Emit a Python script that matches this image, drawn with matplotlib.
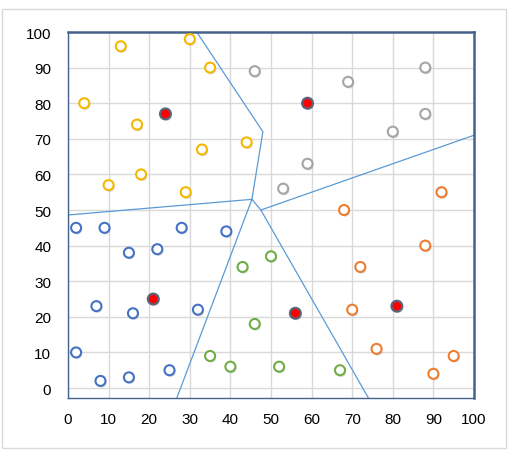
import numpy as np
import matplotlib
matplotlib.use("Agg")
import matplotlib.pyplot as plt
import matplotlib.patheffects as pe
from matplotlib.patches import Rectangle

plt.rcParams['font.family'] = ['Liberation Sans', 'DejaVu Sans']

# cluster points
yellow_x = [4, 13, 30, 35, 17, 33, 44, 10, 18, 29]
yellow_y = [80, 96, 98, 90, 74, 67, 69, 57, 60, 55]
grey_x = [46, 69, 88, 88, 80, 59, 53]
grey_y = [89, 86, 90, 77, 72, 63, 56]
orange_x = [92, 68, 88, 72, 70, 76, 95, 90]
orange_y = [55, 50, 40, 34, 22, 11, 9, 4]
blue_x = [2, 9, 28, 39, 15, 22, 7, 16, 32, 2, 8, 15, 25]
blue_y = [45, 45, 45, 44, 38, 39, 23, 21, 22, 10, 2, 3, 5]
green_x = [43, 50, 46, 35, 40, 52, 67]
green_y = [34, 37, 18, 9, 6, 6, 5]
# centroids
red_x = [24, 59, 21, 56, 81]
red_y = [77, 80, 25, 21, 23]

# boundary segments (x list, y list)
boundaries = [
    ([0, 45.3], [48.6, 53]),
    ([31.7, 48, 45.3], [100, 72, 53]),
    ([45.3, 26.8], [53, -2.8]),
    ([45.3, 47.5, 74], [53, 50, -2.8]),
    ([47.5, 100], [50, 71]),
]

ticks = [0, 10, 20, 30, 40, 50, 60, 70, 80, 90, 100]

fig = plt.figure(figsize=(5.15, 4.56), dpi=100)
fig.patches.append(Rectangle((2 / 515, 1 - 449 / 456), 504 / 515, 439 / 456,
                             transform=fig.transFigure, fill=False,
                             edgecolor='#D9D9D9', linewidth=1))
ax = fig.add_axes([68 / 515, 1 - 399 / 456, 406 / 515, 366 / 456])

for bx, by in boundaries:
    ax.plot(bx, by, color='#5B9BD5', linewidth=0.9, zorder=2)

shadow = [pe.SimplePatchShadow(offset=(0.8, -1.2), shadow_rgbFace='#909090', alpha=0.35), pe.Normal()]
groups = [
    (yellow_x, yellow_y, '#F5B800'),
    (grey_x, grey_y, '#A5A5A5'),
    (orange_x, orange_y, '#ED7D31'),
    (blue_x, blue_y, '#4472C4'),
    (green_x, green_y, '#70AD47'),
]
for gx, gy, c in groups:
    s = ax.scatter(gx, gy, s=52, facecolors='white', edgecolors=c, linewidths=1.5, zorder=3)
    s.set_path_effects(shadow)
r = ax.scatter(red_x, red_y, s=60, facecolors='#FF0000', edgecolors='#5A6378', linewidths=1.6, zorder=4)
r.set_path_effects(shadow)

ax.set_xlim(0, 100)
ax.set_ylim(-2.8, 100)
ax.set_xticks(ticks)
ax.set_yticks(ticks)
ax.grid(True, color='#D9D9D9', linewidth=1)
ax.set_axisbelow(True)
ax.tick_params(length=0, labelsize=11, colors='black')
ax.tick_params(axis='y', pad=12)
ax.tick_params(axis='x', pad=10)
for side in ['left', 'bottom']:
    ax.spines[side].set_color('#44628C')
    ax.spines[side].set_linewidth(1)
for side in ['top', 'right']:
    ax.spines[side].set_color('#44628C')
    ax.spines[side].set_linewidth(1.8)

fig.savefig('out.png', dpi=100)
